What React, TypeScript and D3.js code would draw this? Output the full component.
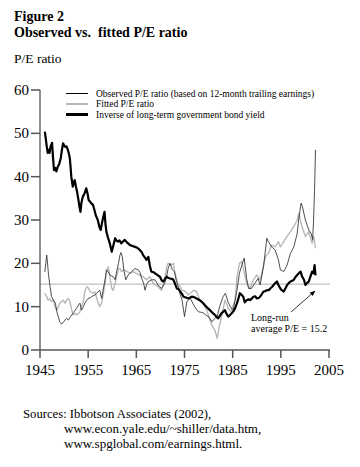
import React from "react";
import * as d3 from "d3";

const yTicks = [0, 10, 20, 30, 40, 50, 60];
const xTicks = [1945, 1955, 1965, 1975, 1985, 1995, 2005];
const longRunAverage = 15.2;

const legendLabels = [
  "Observed P/E ratio (based on 12-month trailing earnings)",
  "Fitted P/E ratio",
  "Inverse of long-term government bond yield",
];

const inverseBondYield: [number, number][] = [
  [1946.0,50.4],[1946.2,48.8],[1946.4,47.0],[1946.6,45.5],[1946.8,46.2],[1947.0,45.5],[1947.2,47.0],[1947.5,47.8],[1947.7,44.5],[1947.9,41.5],[1948.2,42.0],[1948.4,41.2],[1948.7,42.3],[1949.0,43.0],[1949.3,44.2],[1949.6,46.5],[1949.8,47.7],[1950.0,47.2],[1950.2,46.9],[1950.5,47.0],[1950.8,46.1],[1951.0,45.3],[1951.2,44.2],[1951.4,41.5],[1951.5,40.0],[1951.8,37.7],[1952.0,38.5],[1952.2,39.2],[1952.5,37.5],[1952.7,36.5],[1953.0,34.5],[1953.2,33.0],[1953.4,31.9],[1953.6,34.0],[1953.9,35.4],[1954.2,36.0],[1954.6,37.3],[1954.9,36.0],[1955.1,34.6],[1955.4,34.2],[1955.6,33.9],[1956.0,33.5],[1956.3,32.3],[1956.6,31.0],[1957.0,30.0],[1957.3,28.5],[1957.6,27.7],[1957.9,29.5],[1958.2,31.0],[1958.4,31.9],[1958.6,29.0],[1958.8,27.2],[1959.1,26.0],[1959.5,24.6],[1959.9,22.7],[1960.2,24.0],[1960.6,25.8],[1960.9,25.2],[1961.2,25.0],[1961.5,25.3],[1961.9,24.6],[1962.2,25.0],[1962.6,25.4],[1963.0,24.9],[1963.4,24.5],[1963.7,24.2],[1964.2,24.0],[1964.7,23.8],[1965.2,23.6],[1965.7,23.1],[1966.1,22.6],[1966.4,21.9],[1966.8,21.3],[1967.1,20.8],[1967.5,21.5],[1967.8,19.5],[1968.1,18.1],[1968.5,18.0],[1968.9,17.7],[1969.4,17.3],[1969.9,16.9],[1970.3,16.0],[1970.6,15.8],[1971.0,16.5],[1971.3,16.9],[1971.7,16.6],[1972.0,16.5],[1972.4,16.4],[1972.7,16.2],[1973.0,15.4],[1973.4,14.2],[1973.8,14.0],[1974.1,13.5],[1974.5,12.9],[1974.8,12.3],[1975.3,12.1],[1975.8,11.9],[1976.2,12.1],[1976.5,12.3],[1977.0,12.2],[1977.5,11.9],[1978.0,11.6],[1978.5,11.2],[1978.9,10.8],[1979.2,10.4],[1979.7,9.8],[1980.0,9.5],[1980.3,9.2],[1980.8,8.6],[1981.3,8.1],[1981.7,7.6],[1982.0,7.3],[1982.3,7.8],[1982.7,8.5],[1983.0,8.8],[1983.4,9.2],[1983.7,8.4],[1984.1,7.7],[1984.5,8.1],[1984.8,8.5],[1985.2,9.0],[1985.5,9.6],[1985.9,10.8],[1986.2,11.9],[1986.5,13.1],[1986.8,12.8],[1987.2,12.3],[1987.5,11.0],[1987.9,11.5],[1988.3,11.7],[1988.6,11.5],[1989.0,11.9],[1989.3,12.3],[1989.7,12.4],[1990.0,11.9],[1990.4,12.0],[1990.7,12.3],[1991.0,12.8],[1991.4,13.5],[1991.8,13.6],[1992.1,13.8],[1992.5,13.8],[1992.8,14.2],[1993.2,14.6],[1993.5,15.0],[1993.9,15.5],[1994.2,15.8],[1994.5,15.0],[1994.9,14.2],[1995.2,13.8],[1995.6,13.5],[1996.0,14.3],[1996.3,15.0],[1996.7,15.5],[1997.0,15.8],[1997.4,16.0],[1997.7,16.2],[1998.0,16.8],[1998.4,17.3],[1998.8,17.8],[1999.1,18.1],[1999.4,17.0],[1999.8,16.2],[2000.1,15.0],[2000.5,15.5],[2000.8,15.8],[2001.1,16.8],[2001.5,18.1],[2001.8,17.7],[2002.0,19.6],[2002.2,17.2],
];

const observedPE: [number, number][] = [
  [1946.0,18.0],[1946.2,20.0],[1946.4,21.9],[1946.6,19.5],[1946.8,17.0],[1947.1,14.6],[1947.4,12.3],[1947.8,11.5],[1948.2,10.8],[1948.5,8.8],[1948.8,7.7],[1949.1,6.5],[1949.5,6.0],[1949.8,6.3],[1950.2,6.9],[1950.5,7.3],[1950.9,6.9],[1951.2,7.5],[1951.6,8.1],[1952.0,8.7],[1952.3,9.2],[1952.7,9.8],[1953.0,10.4],[1953.3,10.8],[1953.6,9.2],[1954.0,10.0],[1954.3,10.8],[1954.7,11.5],[1955.0,11.9],[1955.4,12.0],[1955.7,12.3],[1956.0,12.5],[1956.4,12.7],[1956.8,13.1],[1957.1,13.5],[1957.4,13.8],[1957.8,11.9],[1958.1,13.8],[1958.5,16.2],[1958.8,18.5],[1959.2,18.0],[1959.5,17.3],[1960.2,16.9],[1960.6,16.2],[1960.9,18.1],[1961.3,20.0],[1961.6,21.9],[1961.8,22.5],[1962.1,21.5],[1962.4,18.5],[1962.8,16.2],[1963.3,17.3],[1964.0,18.1],[1964.7,18.8],[1965.4,18.5],[1965.8,17.8],[1966.1,16.5],[1966.5,15.5],[1966.8,13.8],[1967.1,15.0],[1967.5,15.8],[1968.2,16.2],[1968.9,16.2],[1969.5,15.0],[1970.2,14.2],[1970.9,15.4],[1971.3,17.0],[1971.6,18.8],[1972.0,20.0],[1972.5,18.5],[1972.9,18.1],[1973.3,16.0],[1973.8,14.2],[1974.2,12.5],[1974.5,11.5],[1975.0,7.7],[1975.5,11.2],[1976.2,11.9],[1976.9,10.4],[1977.4,9.5],[1977.9,8.8],[1978.5,8.7],[1979.0,8.5],[1979.5,8.0],[1980.0,7.7],[1980.7,6.5],[1981.3,7.3],[1981.8,7.8],[1982.3,10.0],[1983.0,12.3],[1983.5,13.1],[1984.0,11.2],[1984.5,10.0],[1985.1,9.2],[1985.8,13.1],[1986.4,17.7],[1986.9,19.6],[1987.4,21.2],[1987.9,16.5],[1988.3,14.2],[1988.9,14.2],[1989.6,15.4],[1990.3,16.5],[1990.7,15.0],[1991.4,19.2],[1992.1,25.8],[1992.4,25.0],[1993.1,23.8],[1993.8,23.1],[1994.5,20.8],[1994.9,18.5],[1995.6,18.1],[1996.3,19.6],[1997.0,22.3],[1997.7,23.8],[1998.4,26.9],[1998.7,30.0],[1999.2,33.9],[1999.5,33.0],[2000.1,30.0],[2000.8,27.7],[2001.3,26.9],[2001.6,25.5],[2001.8,30.0],[2002.0,37.0],[2002.2,46.2],
];

const fittedPE: [number, number][] = [
  [1946.0,13.1],[1946.4,12.3],[1946.7,11.5],[1947.0,11.8],[1947.4,11.2],[1947.8,11.5],[1948.1,10.0],[1948.5,9.2],[1948.8,10.0],[1949.1,10.8],[1949.5,11.2],[1949.8,11.5],[1950.2,10.8],[1950.5,11.5],[1950.9,11.9],[1951.2,11.2],[1951.6,9.2],[1951.9,8.1],[1952.3,8.5],[1952.6,8.1],[1953.0,8.5],[1953.3,8.8],[1953.6,10.0],[1954.0,11.2],[1954.3,13.5],[1954.7,14.6],[1955.0,14.4],[1955.4,13.5],[1956.0,13.1],[1956.4,13.4],[1956.7,12.3],[1957.1,10.8],[1957.4,10.0],[1957.8,10.8],[1958.1,12.7],[1958.5,15.4],[1958.8,18.1],[1959.2,19.2],[1959.5,16.9],[1959.9,14.2],[1960.2,13.8],[1960.6,15.4],[1960.9,16.9],[1961.3,18.8],[1961.6,18.8],[1961.9,18.1],[1962.4,18.5],[1963.1,18.1],[1963.7,17.7],[1964.4,18.1],[1965.0,17.7],[1965.7,17.3],[1966.4,16.9],[1967.1,16.2],[1967.8,16.9],[1968.5,15.4],[1969.5,14.6],[1970.2,13.8],[1970.9,16.2],[1971.3,19.2],[1971.6,20.0],[1972.3,19.6],[1972.7,20.0],[1972.9,18.5],[1973.4,16.2],[1973.8,15.0],[1974.5,13.8],[1975.2,13.5],[1975.8,12.7],[1976.9,13.8],[1977.5,13.5],[1978.2,11.5],[1979.0,10.4],[1979.6,9.2],[1980.3,6.9],[1980.8,5.4],[1981.3,4.6],[1981.8,2.7],[1982.2,5.4],[1982.7,7.7],[1983.4,11.5],[1983.8,10.5],[1984.1,9.6],[1984.6,9.0],[1985.0,10.0],[1985.5,11.5],[1985.9,16.9],[1986.4,20.0],[1986.9,20.4],[1987.3,18.5],[1987.9,15.4],[1988.6,14.2],[1989.3,16.2],[1990.0,17.3],[1990.7,16.2],[1991.1,18.0],[1991.8,21.5],[1992.4,22.3],[1993.1,24.2],[1993.8,23.8],[1994.5,25.0],[1994.9,23.8],[1995.6,25.0],[1996.3,26.2],[1997.0,27.3],[1997.7,28.5],[1998.4,30.0],[1998.7,31.5],[1999.4,28.5],[2000.1,26.2],[2000.8,27.3],[2001.5,24.6],[2001.8,26.2],[2002.2,23.5],
];

const FONT = "'Liberation Serif', 'Times New Roman', serif";

export default function App() {
  const x = d3.scaleLinear().domain([1945, 2005]).range([40, 329]);
  const y = d3.scaleLinear().domain([0, 60]).range([350, 90]);
  const line = d3
    .line<[number, number]>()
    .x((d) => x(d[0]))
    .y((d) => y(d[1]));

  const legendStyles = [
    { stroke: "#000", width: 1 },
    { stroke: "#b8b8b8", width: 2 },
    { stroke: "#000", width: 3 },
  ];
  const legendY = [93.5, 104, 114.5];

  return (
    <svg
      width={360}
      height={467}
      style={{ position: "absolute", left: 0, top: 0, background: "#fff" }}
      fontFamily={FONT}
    >
      <defs>
        <marker id="arrow" viewBox="0 0 10 10" refX="9" refY="5" markerWidth="7" markerHeight="7" orient="auto">
          <path d="M0,1 L10,5 L0,9 z" fill="#000" />
        </marker>
      </defs>
      <text x={14} y={21} fontSize={14} fontWeight="bold">Figure 2</text>
      <text x={14} y={37} fontSize={14} fontWeight="bold" style={{ whiteSpace: "pre" }}>
        Observed vs.  fitted P/E ratio
      </text>
      <text x={14} y={63} fontSize={13.5}>P/E ratio</text>

      {/* long-run average */}
      <line x1={40} x2={330} y1={y(longRunAverage)} y2={y(longRunAverage)} stroke="#b0b0b0" strokeWidth={1} />

      {/* series */}
      <path d={line(fittedPE) || ""} fill="none" stroke="#b8b8b8" strokeWidth={1.4} strokeLinejoin="round" />
      <path d={line(observedPE) || ""} fill="none" stroke="#222" strokeWidth={0.8} strokeLinejoin="round" />
      <path d={line(inverseBondYield) || ""} fill="none" stroke="#000" strokeWidth={2.2} strokeLinejoin="round" />

      {/* axes */}
      <line x1={40} x2={40} y1={y(60)} y2={y(0)} stroke="#6a6a6a" strokeWidth={1.5} />
      <line x1={40} x2={330} y1={y(0)} y2={y(0)} stroke="#555" strokeWidth={1.5} />
      {yTicks.map((t) => (
        <g key={"y" + t}>
          <line x1={31} x2={40} y1={y(t)} y2={y(t)} stroke="#555" strokeWidth={1.5} />
          <text x={29} y={y(t) + 5} fontSize={15} textAnchor="end">{t}</text>
        </g>
      ))}
      {xTicks.map((t) => (
        <g key={"x" + t}>
          <line x1={x(t)} x2={x(t)} y1={350} y2={358} stroke="#555" strokeWidth={1.5} />
          <text x={x(t)} y={375} fontSize={15} textAnchor="middle">{t}</text>
        </g>
      ))}

      {/* legend */}
      {legendLabels.map((l, i) => (
        <g key={l}>
          <line x1={66} x2={88} y1={legendY[i]} y2={legendY[i]} stroke={legendStyles[i].stroke} strokeWidth={legendStyles[i].width} />
          <text x={96} y={legendY[i] + 3} fontSize={9.5}>{l}</text>
        </g>
      ))}

      {/* annotation */}
      <line x1={291} y1={312} x2={315} y2={291} stroke="#000" strokeWidth={0.8} markerEnd="url(#arrow)" />
      <text x={251} y={320.5} fontSize={10}>Long-run</text>
      <text x={251} y={331.5} fontSize={10}>average P/E = 15.2</text>

      {/* sources */}
      <text x={23} y={418} fontSize={12.7}>Sources: Ibbotson Associates (2002),</text>
      <text x={64} y={433} fontSize={13}>www.econ.yale.edu/~shiller/data.htm,</text>
      <text x={64} y={448} fontSize={13}>www.spglobal.com/earnings.html.</text>
    </svg>
  );
}
